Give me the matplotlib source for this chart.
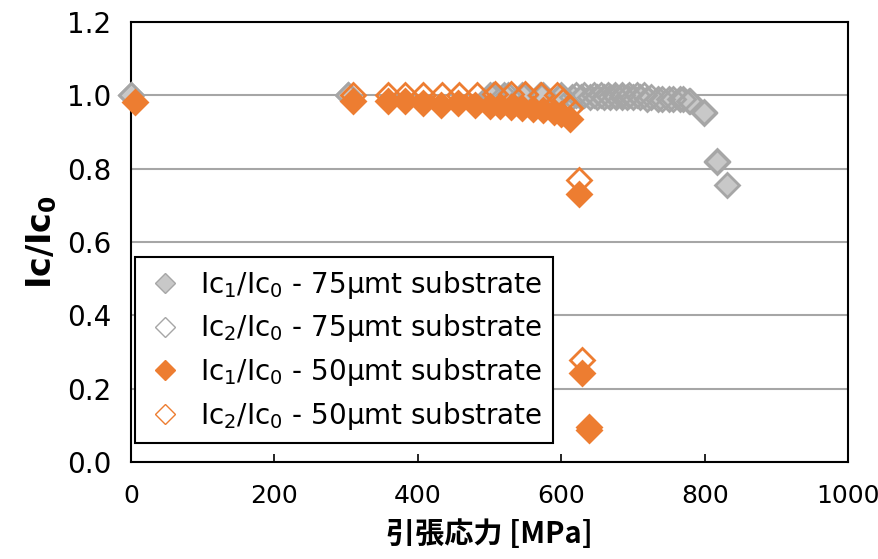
import numpy as np
import matplotlib
matplotlib.use("Agg")
import matplotlib.pyplot as plt

# data
# 75um substrate
gray_ic1_x = [0, 302, 500, 520, 545, 570, 598, 615, 628, 640, 650, 660, 668, 676, 684, 692, 700, 710, 720, 735, 750, 765, 778, 799, 817, 831]
gray_ic1_y = [1.0, 1.0, 1.0, 1.0, 1.0, 1.0, 0.995, 0.995, 0.995, 0.995, 0.995, 0.995, 0.995, 0.995, 0.995, 0.995, 0.995, 0.995, 0.99, 0.99, 0.99, 0.99, 0.985, 0.952, 0.818, 0.756]
gray_ic2_x = [0, 302, 505, 525, 550, 575, 600, 620, 632, 645, 655, 665, 675, 685, 695, 705, 715, 725, 740, 755, 770, 780, 799, 817]
gray_ic2_y = [1.0, 1.0, 1.0, 1.0, 1.0, 1.0, 1.0, 1.0, 1.0, 1.0, 1.0, 1.0, 1.0, 1.0, 1.0, 1.0, 1.0, 0.995, 0.99, 0.99, 0.99, 0.985, 0.955, 0.82]

# 50um substrate
orange_ic1_x = [5, 310, 358, 382, 407, 432, 456, 480, 500, 515, 530, 545, 560, 575, 590, 600, 612, 625, 629, 639]
orange_ic1_y = [0.982, 0.985, 0.985, 0.985, 0.98, 0.975, 0.978, 0.975, 0.972, 0.97, 0.968, 0.965, 0.962, 0.96, 0.955, 0.948, 0.935, 0.731, 0.243, 0.087]
orange_ic2_x = [310, 358, 382, 407, 433, 458, 483, 508, 530, 550, 572, 594, 602, 612, 625, 629, 639]
orange_ic2_y = [1.0, 1.0, 1.0, 1.0, 1.0, 1.0, 1.0, 1.005, 1.005, 1.005, 1.0, 1.0, 0.985, 0.965, 0.77, 0.278, 0.095]

labels = ["Ic$_1$/Ic$_0$ - 75μmt substrate",
          "Ic$_2$/Ic$_0$ - 75μmt substrate",
          "Ic$_1$/Ic$_0$ - 50μmt substrate",
          "Ic$_2$/Ic$_0$ - 50μmt substrate"]

GRAY_FACE = "#C8C8C8"
GRAY_EDGE = "#A6A6A6"
ORANGE = "#ED7D31"

plt.rcParams['font.family'] = ['DejaVu Sans']
plt.rcParams['font.sans-serif'] = ['DejaVu Sans']
plt.rcParams['mathtext.fontset'] = 'dejavusans'

fig = plt.figure(figsize=(8.79, 5.59), dpi=100)
ax = fig.add_axes([0.149, 0.1735, 0.816, 0.787])

ms = 12
ax.plot(gray_ic1_x, gray_ic1_y, 'D', ms=ms, mfc=GRAY_FACE, mec=GRAY_EDGE, mew=2, clip_on=False, zorder=3, label=labels[0])
ax.plot(gray_ic2_x, gray_ic2_y, 'D', ms=ms, mfc="none", mec=GRAY_EDGE, mew=2, clip_on=False, zorder=3, label=labels[1])
ax.plot(orange_ic1_x, orange_ic1_y, 'D', ms=ms, mfc=ORANGE, mec=ORANGE, mew=2, clip_on=False, zorder=4, label=labels[2])
ax.plot(orange_ic2_x, orange_ic2_y, 'D', ms=ms, mfc="none", mec=ORANGE, mew=2, clip_on=False, zorder=4, label=labels[3])

ax.set_xlim(0, 1000)
ax.set_ylim(0, 1.2)
ax.set_xticks(np.arange(0, 1001, 200))
ax.set_yticks(np.arange(0, 1.21, 0.2))
ax.set_yticklabels([f"{v:.1f}" for v in np.arange(0, 1.21, 0.2)])
ax.yaxis.grid(True, color="#A6A6A6", lw=1.5)
ax.set_axisbelow(True)
for s in ax.spines.values():
    s.set_linewidth(1.5)
    s.set_color("black")
ax.tick_params(axis='x', direction='in', length=6, width=1.2, labelsize=18, pad=16)
ax.tick_params(axis='y', length=0, labelsize=20, pad=14)

ax.set_ylabel("Ic/Ic$_\\mathbf{0}$", fontsize=24, fontweight='bold', labelpad=6)
ax.set_xlabel("引張応力 [MPa]", fontsize=21, fontweight='bold',
              family=['Noto Sans CJK JP', 'DejaVu Sans'], labelpad=8)

leg = ax.legend(loc='upper left', bbox_to_anchor=(0.005, 0.465), borderaxespad=0,
                fontsize=20, frameon=True, fancybox=False, framealpha=1,
                handletextpad=0.55, labelspacing=0.42, borderpad=0.4, handlelength=1.4)
leg.get_frame().set_edgecolor("black")
leg.get_frame().set_linewidth(1.5)
for h in leg.legend_handles:
    h.set_markersize(10)
    h.set_markeredgewidth(1)

fig.savefig("out.png", dpi=100)
